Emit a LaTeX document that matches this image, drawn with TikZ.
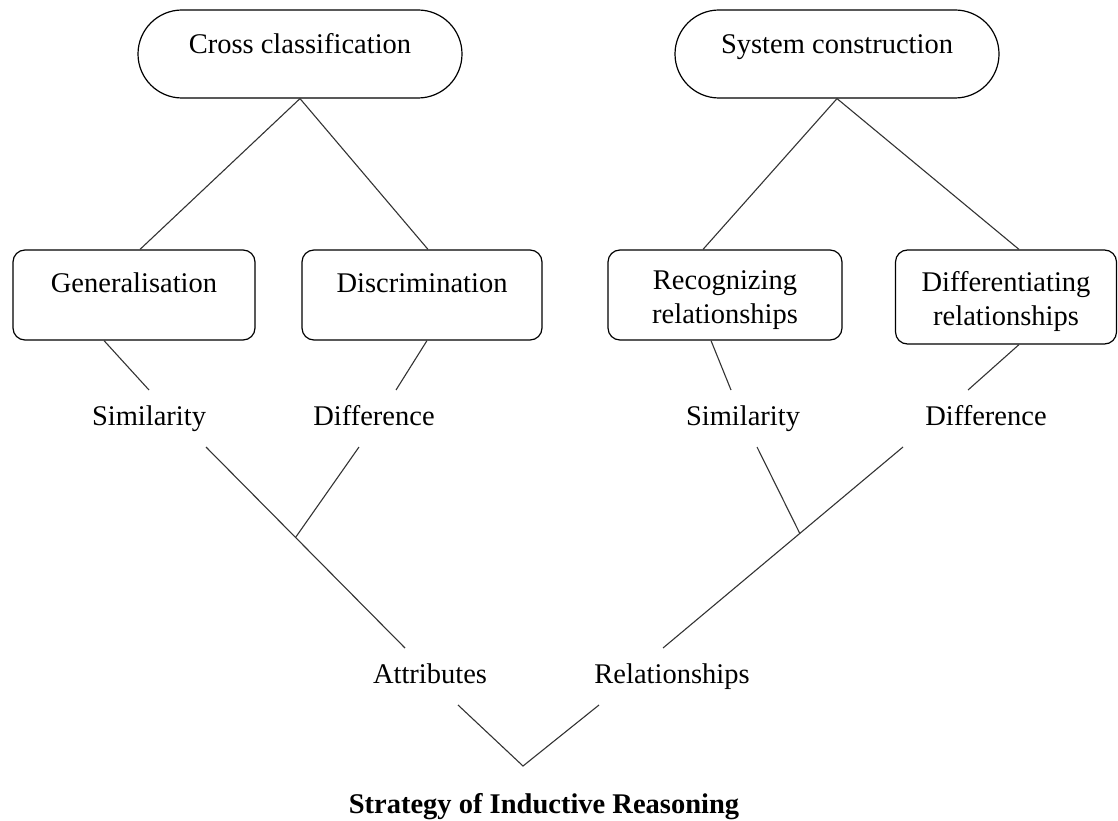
\documentclass[tikz,border=0pt]{standalone}
\usepackage{fontspec}
\setmainfont{Liberation Serif}
\usetikzlibrary{shapes.misc,calc}

\tikzset{
    pill/.style={draw, rounded rectangle, line width=1.2pt, minimum width=324pt, minimum height=88pt, inner sep=0pt, text height=20pt, text depth=20pt},
    box/.style={draw, rounded corners=12pt, line width=1.2pt, minimum height=90pt, inner sep=0pt, align=center, text height=20pt, text depth=26pt},
    twoline/.style={text height=60pt, text depth=4pt},
    word/.style={inner sep=0pt, outer xsep=0pt, outer ysep=15pt, text height=20pt, text depth=7pt, anchor=base},
    link/.style={line width=1.1pt, black!80}
}

\begin{document}
\begin{tikzpicture}[x=1pt, y=-1pt, font=\fontsize{28.5}{34}\selectfont]
            \useasboundingbox (0,0) rectangle (1118,821);
            \node[pill] (cross) at (300,54) {Cross classification};
            \node[pill] (system) at (837,54) {System construction};
            \node[box, minimum width=242pt] (gen) at (134,295) {Generalisation};
            \node[box, minimum width=240pt] (disc) at (422,295) {Discrimination};
            \node[box, twoline, minimum width=234pt] (recog) at (725,295) {Recognizing\\relationships};
            \node[box, twoline, minimum width=221pt, minimum height=94pt] (diffrel) at (1006,297) {Differentiating\\relationships};
            \node[word] (simA) at (149,425) {Similarity};
            \node[word] (difA) at (374,425) {Difference};
            \node[word] (simB) at (743,425) {Similarity};
            \node[word] (difB) at (986,425) {Difference};
            \node[word] (attr) at (430,683) {Attributes};
            \node[word] (rel) at (672,683) {Relationships};
            \node[anchor=base, font=\fontsize{28.5}{34}\selectfont\bfseries] (title) at (544,813) {Strategy of Inductive Reasoning};
            \coordinate (attrtop) at ([xshift=-25pt]attr.north);
            \coordinate (reltop) at ([xshift=-9pt]rel.north);
            \coordinate (leftfork) at ($(simA.south east)!0.45!(attrtop)$);
            \coordinate (rightfork) at ($([xshift=-83pt]difB.south)!0.43!(reltop)$);
            \coordinate (root) at (523,766);
            \draw[link] (cross.south) -- ([xshift=6pt]gen.north);
            \draw[link] (cross.south) -- ([xshift=6pt]disc.north);
            \draw[link] (system.south) -- ([xshift=-22pt]recog.north);
            \draw[link] (system.south) -- ([xshift=13pt]diffrel.north);
            \draw[link] ([xshift=-30pt]gen.south) -- (simA.north);
            \draw[link] ([xshift=5pt]disc.south) -- ([xshift=22pt]difA.north);
            \draw[link] ([xshift=-14pt]recog.south) -- ([xshift=-12pt]simB.north);
            \draw[link] ([xshift=13pt]diffrel.south) -- ([xshift=-18pt]difB.north);
            \draw[link] (simA.south east) -- (attrtop);
            \draw[link] ([xshift=-15pt]difA.south) -- (leftfork);
            \draw[link] ([xshift=-83pt]difB.south) -- (reltop);
            \draw[link] ([xshift=14pt]simB.south) -- (rightfork);
            \draw[link] ([xshift=28pt]attr.south) -- (root) -- ([xshift=-73pt]rel.south);
        \end{tikzpicture}
\end{document}
